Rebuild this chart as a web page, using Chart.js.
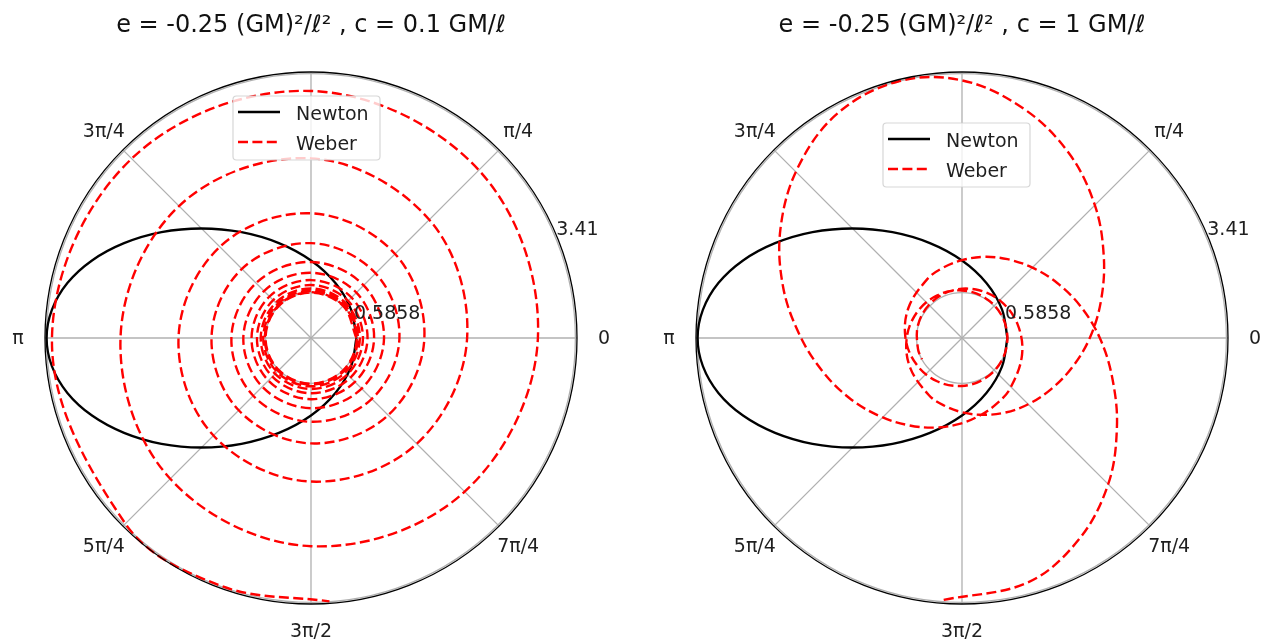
<!DOCTYPE html>
<html>
<head>
<meta charset="utf-8">
<script src="https://cdn.jsdelivr.net/npm/chart.js@4/dist/chart.umd.min.js"></script>
<style>
  html, body { margin: 0; padding: 0; background: #fff; }
  body { width: 1264px; height: 642px; position: relative; overflow: hidden; }
  .panel { position: absolute; top: 0; width: 632px; height: 642px; }
  #leftPanel { left: 0; }
  #rightPanel { left: 632px; }
</style>
</head>
<body>
<div class="panel" id="leftPanel"><canvas id="orbitLeft" width="632" height="642"></canvas></div>
<div class="panel" id="rightPanel"><canvas id="orbitRight" width="632" height="642"></canvas></div>
<script>
// Orbits in the plane: angle θ in degrees (counter-clockwise from the +x axis), radius in ℓ²/GM.
const thetaTickLabels = ['0', 'π/4', '', '3π/4', 'π', '5π/4', '3π/2', '7π/4'];
const rTicks = [0.5858, 3.4142];
const rTickLabels = ['0.5858', '3.41'];
const rMax = 3.435;
const seriesNames = ['Newton', 'Weber'];
const titles = ['e = -0.25 (GM)²/ℓ² , c = 0.1 GM/ℓ', 'e = -0.25 (GM)²/ℓ² , c = 1 GM/ℓ'];

// Newtonian ellipse (same in both panels), perihelion at θ = 0
const newtonTheta = [0, 35.3, 65.8, 90, 108.7, 123.3, 135, 144.7, 153.1, 160.5, 167.3, 173.8, 180,
                     186.2, 192.7, 199.5, 206.9, 215.3, 225, 236.7, 251.3, 270, 294.2, 324.7, 360];
const newtonR = [0.586, 0.634, 0.775, 1.000, 1.293, 1.634, 2.000, 2.366, 2.707, 3.000, 3.225, 3.366, 3.414,
                 3.366, 3.225, 3.000, 2.707, 2.366, 2.000, 1.634, 1.293, 1.000, 0.775, 0.634, 0.586];

// Weber orbit, c = 0.1: slow outward spiral from perihelion to aphelion, one value every 45°
const weberLeftTheta = [
  0, 45, 90, 135, 180, 225, 270, 315,
  360, 405, 450, 495, 540, 585, 630, 675,
  720, 765, 810, 855, 900, 945, 990, 1035,
  1080, 1125, 1170, 1215, 1260, 1305, 1350, 1395,
  1440, 1485, 1530, 1575, 1620, 1665, 1710, 1755,
  1800, 1845, 1890, 1935, 1980, 2025, 2070, 2115,
  2160, 2205, 2250, 2295, 2340, 2385, 2430, 2475,
  2520, 2565, 2610, 2655, 2700, 2745, 2790, 2835,
  2880, 2925, 2970, 3015, 3060, 3105, 3150, 3195,
  3240, 3285, 3330, 3375, 3420, 3465, 3510, 3555,
  3600, 3645, 3690, 3735, 3780, 3825, 3870, 3915,
  3960, 4005, 4050, 4095, 4140, 4185, 4210, 4234
];
const weberLeftR = [
  0.586, 0.586, 0.586, 0.587, 0.587, 0.588, 0.589, 0.589,
  0.591, 0.592, 0.593, 0.595, 0.597, 0.599, 0.601, 0.603,
  0.605, 0.608, 0.611, 0.614, 0.617, 0.620, 0.624, 0.627,
  0.631, 0.636, 0.640, 0.644, 0.649, 0.654, 0.659, 0.665,
  0.671, 0.677, 0.684, 0.691, 0.698, 0.706, 0.713, 0.722,
  0.730, 0.739, 0.748, 0.758, 0.768, 0.778, 0.790, 0.802,
  0.815, 0.829, 0.843, 0.858, 0.874, 0.890, 0.907, 0.924,
  0.943, 0.962, 0.982, 1.003, 1.028, 1.055, 1.082, 1.111,
  1.142, 1.180, 1.225, 1.262, 1.285, 1.320, 1.361, 1.410,
  1.464, 1.535, 1.610, 1.665, 1.711, 1.781, 1.854, 1.931,
  2.016, 2.160, 2.320, 2.410, 2.460, 2.571, 2.689, 2.806,
  2.930, 3.065, 3.190, 3.275, 3.345, 3.390, 3.405, 3.410
];

// Weber orbit, c = 1: from near aphelion (θ < 0) through perihelion at θ = 0,
// out to aphelion near θ = 464° and back in to the next perihelion
const weberRightTheta = [
  -454, -435, -420, -405, -390, -375, -360, -345, -330, -315, -300, -285, -270, -255, -240,
  -210, -180, -150, -120, -90, -60, -30, 0,
  30, 60, 90, 120, 150, 180, 210, 240, 255, 270, 285, 300, 315, 330, 345, 360,
  375, 390, 405, 420, 435, 450, 464,
  479, 494, 509, 524, 539, 554, 569, 584, 599, 614, 629, 644, 659, 674,
  704, 734, 764, 794, 824, 854, 884, 914, 928
];
const weberRightR = [
  3.39, 3.27, 3.01, 2.67, 2.31, 2.01, 1.78, 1.585, 1.42, 1.285, 1.175, 1.085, 1.005, 0.94, 0.885,
  0.795, 0.73, 0.68, 0.645, 0.619, 0.601, 0.590, 0.586,
  0.589, 0.598, 0.614, 0.637, 0.669, 0.714, 0.772, 0.853, 0.902, 0.959, 1.027, 1.112, 1.210, 1.325, 1.471, 1.650,
  1.858, 2.114, 2.426, 2.758, 3.067, 3.327, 3.414,
  3.316, 3.054, 2.735, 2.404, 2.096, 1.843, 1.637, 1.460, 1.317, 1.203, 1.106, 1.022, 0.955, 0.899,
  0.806, 0.739, 0.689, 0.651, 0.624, 0.604, 0.592, 0.586, 0.586
];

const DEG = Math.PI / 180;
function toXY(thetas, radii) {
  return thetas.map((t, i) => ({ x: radii[i] * Math.cos(t * DEG), y: radii[i] * Math.sin(t * DEG) }));
}

const FONT = "'DejaVu Sans', 'Liberation Sans', sans-serif";
const TEXT = '#1f1f1f';

// Polar frame: radial circles, angular spokes, outer spine, tick labels and the legend box
const polarFrame = {
  id: 'polarFrame',
  beforeDatasetsDraw(chart) {
    const { ctx, scales: { x, y } } = chart;
    const cx = x.getPixelForValue(0), cy = y.getPixelForValue(0);
    const rad = v => x.getPixelForValue(v) - cx;
    ctx.save();
    ctx.strokeStyle = '#b0b0b0';
    ctx.lineWidth = 1.3;
    rTicks.forEach(r => {
      ctx.beginPath();
      ctx.arc(cx, cy, rad(r), 0, 2 * Math.PI);
      ctx.stroke();
    });
    thetaTickLabels.forEach((_, i) => {
      const a = i * 45 * DEG;
      ctx.beginPath();
      ctx.moveTo(cx, cy);
      ctx.lineTo(x.getPixelForValue(rMax * Math.cos(a)), y.getPixelForValue(rMax * Math.sin(a)));
      ctx.stroke();
    });
    ctx.restore();
  },
  afterDatasetsDraw(chart, args, opts) {
    const { ctx, scales: { x, y } } = chart;
    const cx = x.getPixelForValue(0), cy = y.getPixelForValue(0);
    const rad = v => x.getPixelForValue(v) - cx;
    ctx.save();
    // outer spine
    ctx.strokeStyle = '#000';
    ctx.lineWidth = 1.3;
    ctx.beginPath();
    ctx.arc(cx, cy, rad(rMax), 0, 2 * Math.PI);
    ctx.stroke();

    ctx.fillStyle = TEXT;
    ctx.font = `19px ${FONT}`;
    // angular tick labels
    ctx.textAlign = 'center';
    ctx.textBaseline = 'middle';
    const labelDist = rad(rMax) + 27;
    thetaTickLabels.forEach((lab, i) => {
      if (!lab) return;
      const a = i * 45 * DEG;
      ctx.fillText(lab, cx + labelDist * Math.cos(a), cy - labelDist * Math.sin(a) + 1.5);
    });
    // radial tick labels along the 22.5° direction
    ctx.textAlign = 'left';
    ctx.textBaseline = 'alphabetic';
    const ra = 22.5 * DEG;
    rTicks.forEach((r, i) => {
      ctx.fillText(rTickLabels[i], cx + rad(r) * Math.cos(ra) + 1, cy - rad(r) * Math.sin(ra) - 2);
    });

    // legend box
    const bx = cx + opts.legendDx, by = cy + opts.legendDy, bw = 147, bh = 64;
    ctx.beginPath();
    ctx.roundRect(bx, by, bw, bh, 3.5);
    ctx.fillStyle = 'rgba(255,255,255,0.8)';
    ctx.fill();
    ctx.strokeStyle = 'rgba(204,204,204,0.8)';
    ctx.lineWidth = 1.2;
    ctx.stroke();
    const rows = [chart.data.datasets[1], chart.data.datasets[0]];
    rows.forEach((ds, k) => {
      const ly = by + 16 + 30 * k;
      ctx.beginPath();
      ctx.strokeStyle = ds.borderColor;
      ctx.lineWidth = ds.borderWidth;
      ctx.setLineDash(ds.borderDash || []);
      ctx.moveTo(bx + 5, ly);
      ctx.lineTo(bx + 47, ly);
      ctx.stroke();
      ctx.setLineDash([]);
      ctx.fillStyle = TEXT;
      ctx.textAlign = 'left';
      ctx.textBaseline = 'middle';
      ctx.fillText(ds.label, bx + 63, ly + 3);
    });
    ctx.restore();
  }
};

function makeChart(canvasId, title, wTheta, wR, pad, legendDx, legendDy) {
  return new Chart(document.getElementById(canvasId), {
    type: 'scatter',
    data: {
      datasets: [
        {
          label: seriesNames[1], data: toXY(wTheta, wR), showLine: true,
          borderColor: '#ff0000', borderWidth: 2.4, borderDash: [10, 4.4],
          pointRadius: 0, tension: 0.36, order: 0
        },
        {
          label: seriesNames[0], data: toXY(newtonTheta, newtonR), showLine: true,
          borderColor: '#000000', borderWidth: 2.3,
          pointRadius: 0, tension: 0.36, order: 1
        }
      ]
    },
    options: {
      responsive: false,
      animation: false,
      events: [],
      layout: { padding: pad },
      elements: { line: { capBezierPoints: false } },
      scales: {
        x: { type: 'linear', min: -rMax, max: rMax, display: false },
        y: { type: 'linear', min: -rMax, max: rMax, display: false }
      },
      plugins: {
        legend: { display: false },
        tooltip: { enabled: false },
        title: {
          display: true, text: title, color: '#111',
          font: { family: FONT, size: 24, weight: 'normal', lineHeight: 1.2 },
          padding: { top: 11, bottom: 32.2 }
        },
        polarFrame: { legendDx, legendDy }
      }
    },
    plugins: [polarFrame]
  });
}

makeChart('orbitLeft', titles[0], weberLeftTheta, weberLeftR,
  { left: 45, right: 55, top: 0, bottom: 38 }, -78, -242);
makeChart('orbitRight', titles[1], weberRightTheta, weberRightR,
  { left: 64, right: 36, top: 0, bottom: 38 }, -79, -215);
</script>
</body>
</html>
